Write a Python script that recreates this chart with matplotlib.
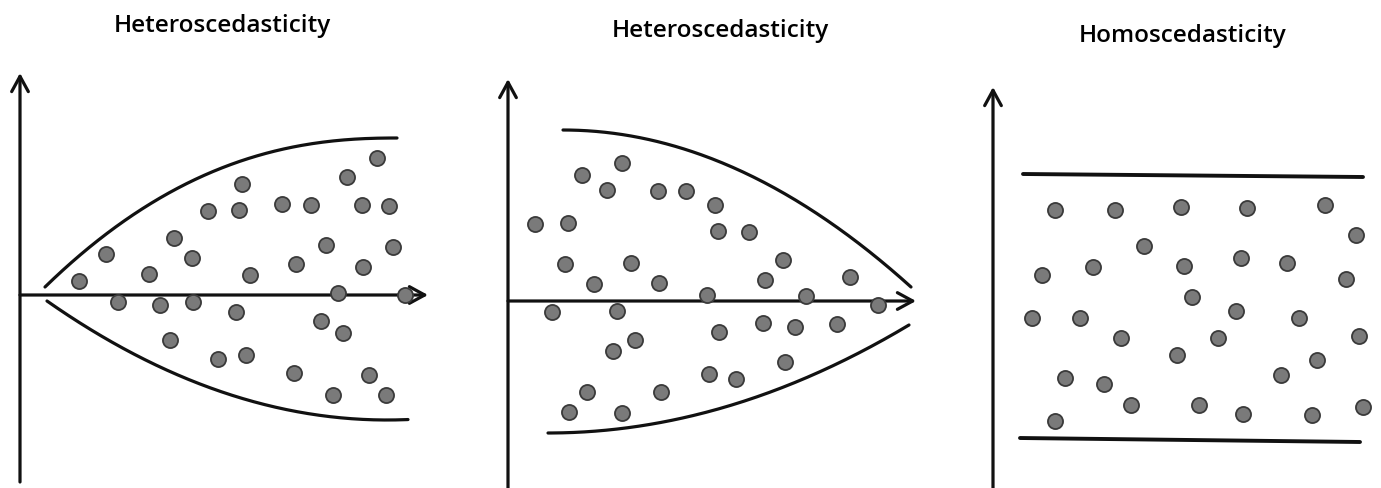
import numpy as np
import matplotlib
matplotlib.use("Agg")
import matplotlib.pyplot as plt

# ---- data: residual scatter for three panels (x, residual) ----
titles = ["Heteroscedasticity", "Heteroscedasticity", "Homoscedasticity"]

fan_out_x = [357, 327, 222, 188, 219, 262, 291, 342, 369, 154, 86, 172, 306, 373,
             276, 343, 59, 129, 230, 318, 385, 98, 140, 173, 216, 301, 323, 150,
             198, 226, 274, 349, 313, 366]
fan_out_y = [137, 118, 111, 84, 85, 91, 90, 90, 89, 57, 41, 37, 50, 48,
             31, 28, 14, 21, 20, 2, 0, -7, -10, -7, -17, -26, -38, -45,
             -64, -60, -78, -80, -100, -100]

fan_in_x = [114, 74, 99, 150, 178, 207, 27, 60, 210, 241, 57, 123, 275, 86, 151,
            257, 342, 199, 298, 370, 44, 109, 255, 287, 329, 211, 127, 105, 277,
            201, 228, 79, 153, 61, 114]
fan_in_y = [138, 126, 111, 110, 110, 96, 77, 78, 70, 69, 37, 38, 41, 17, 18,
            21, 24, 6, 5, -4, -11, -10, -22, -26, -23, -31, -39, -50, -61,
            -73, -78, -91, -91, -111, -112]

const_x = [62, 122, 188, 254, 332, 363, 151, 49, 100, 191, 248, 294, 353, 199,
           39, 87, 243, 306, 128, 225, 366, 184, 324, 72, 111, 288, 138, 206,
           250, 319, 370, 62]
const_y = [99, 99, 102, 101, 104, 74, 63, 34, 42, 43, 51, 46, 30, 12,
           -9, -9, -2, -9, -29, -29, -27, -46, -51, -69, -75, -66, -96, -96,
           -105, -106, -98, -112]

# ---- figure geometry (pixels) ----
W, H, DPI = 1381, 489, 100
fig = plt.figure(figsize=(W / DPI, H / DPI), dpi=DPI)
fig.patch.set_facecolor("white")

LW = 2.3
INK = "#111111"
DOT_FACE = "#7a7a7a"
DOT_EDGE = "#3a3a3a"


def panel_axes(ox, oy):
    """Transparent full-figure axes whose origin sits at pixel (ox, oy)."""
    ax = fig.add_axes([0, 0, 1, 1])
    ax.set_xlim(-ox, W - ox)
    ax.set_ylim(oy - H, oy)
    ax.axis("off")
    ax.patch.set_alpha(0)
    return ax


def arrow(ax, start, end):
    ax.annotate("", xy=end, xytext=start,
                arrowprops=dict(arrowstyle="->,head_length=0.55,head_width=0.3",
                                lw=LW, color=INK, shrinkA=0, shrinkB=0,
                                mutation_scale=20),
                zorder=2)


def dots(ax, x, y):
    ax.scatter(x, y, s=118, c=DOT_FACE, edgecolors=DOT_EDGE, linewidths=1.3,
               zorder=3)


def parabola(x_start, x_end, x_vertex, y_start, y_vertex, n=200):
    """Parabolic arc through (x_start, y_start) with vertex (x_vertex, y_vertex)."""
    xs = np.linspace(x_start, x_end, n)
    k = (y_start - y_vertex) / (x_start - x_vertex) ** 2
    return xs, y_vertex + k * (xs - x_vertex) ** 2


def power_arc(x0, x1, y0, y1, power, n=200):
    t = np.linspace(0, 1, n)
    return x0 + (x1 - x0) * t, y0 + (y1 - y0) * (1 - (1 - t) ** power)


def curve(ax, xs, ys, lw=LW):
    ax.plot(xs, ys, color=INK, lw=lw, solid_capstyle="round")


# Panel 1: spread widening to the right
ax1 = panel_axes(20, 296)
arrow(ax1, (0, -187), (0, 222))
arrow(ax1, (0, 0), (408, 0))
curve(ax1, *power_arc(25, 377, 8, 157, 2.3))
curve(ax1, *parabola(27, 388, 367, -6, -125))
dots(ax1, fan_out_x, fan_out_y)

# Panel 2: spread narrowing to the right
ax2 = panel_axes(508, 302)
arrow(ax2, (0, -190), (0, 222))
arrow(ax2, (0, 0), (408, 0))
curve(ax2, *parabola(403, 55, 55, 14, 171))
curve(ax2, *parabola(401, 40, 40, -24, -132))
dots(ax2, fan_in_x, fan_in_y)

# Panel 3: constant spread
ax3 = panel_axes(993, 310)
arrow(ax3, (0, -182), (0, 222))
arrow(ax3, (0, 3), (398, -3))
curve(ax3, [30, 370], [135, 132], lw=LW + 0.5)
curve(ax3, [27, 367], [-129, -133], lw=LW + 0.5)
dots(ax3, const_x, const_y)

# Panel titles
title_pos = [(222, 32), (720, 37), (1183, 42)]
for text, (cx, base) in zip(titles, title_pos):
    fig.text(cx / W, 1 - base / H, text, ha="center", va="baseline",
             fontsize=17.5, family="Open Sans", fontweight="semibold",
             color="black")

fig.savefig("out.png", dpi=DPI, facecolor="white")
